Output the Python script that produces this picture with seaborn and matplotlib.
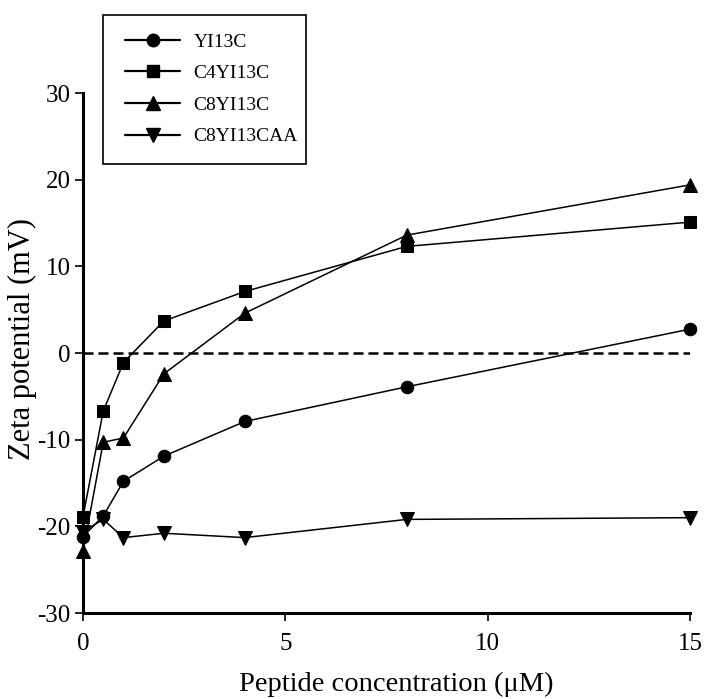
import matplotlib
matplotlib.use("Agg")
import matplotlib.pyplot as plt
import seaborn as sns
import pandas as pd
from matplotlib.lines import Line2D
from matplotlib.patches import Rectangle

sns.set_theme(style="ticks")
plt.rcParams['font.family'] = ['Liberation Serif', 'DejaVu Serif']
plt.rcParams['axes.unicode_minus'] = False

concentration = [0, 0.5, 1, 2, 4, 8, 15]
series_names = ["YI13C", "C4YI13C", "C8YI13C", "C8YI13CAA"]
yi13c = [-21.2, -18.8, -14.8, -11.9, -7.9, -3.9, 2.75]
c4yi13c = [-18.9, -6.7, -1.1, 3.7, 7.1, 12.3, 15.1]
c8yi13c = [-22.9, -10.3, -9.8, -2.4, 4.6, 13.6, 19.4]
c8yi13caa = [-20.6, -19.2, -21.3, -20.8, -21.3, -19.2, -19.0]
markers = {"YI13C": "o", "C4YI13C": "s", "C8YI13C": "^", "C8YI13CAA": "v"}
msizes = {"YI13C": 9, "C4YI13C": 8, "C8YI13C": 10, "C8YI13CAA": 10}

values = [yi13c, c4yi13c, c8yi13c, c8yi13caa]
rows = []
for name, vals in zip(series_names, values):
    for x, y in zip(concentration, vals):
        rows.append({"conc": x, "zeta": y, "series": name})
df = pd.DataFrame(rows)

fig = plt.figure(figsize=(7.04, 6.99), dpi=100)
ax = fig.add_axes([83/704, 1-613/699, (690-83)/704, (613-93)/699])

ax.axhline(0, color="black", lw=1.8, ls=(0, (4, 2)), zorder=1)

for name in series_names:
    sub = df[df.series == name]
    sns.lineplot(data=sub, x="conc", y="zeta", ax=ax, color="black",
                 marker=markers[name], markersize=msizes[name], lw=1.1,
                 markeredgecolor="black", markerfacecolor="black",
                 clip_on=False, zorder=3, legend=False)

ax.set_xlim(0, 15)
ax.set_ylim(-30, 30)
ax.set_xticks([0, 5, 10, 15])
ax.set_yticks([-30, -20, -10, 0, 10, 20, 30])
sns.despine(ax=ax)
for s in ["left", "bottom"]:
    ax.spines[s].set_linewidth(2.2)
    ax.spines[s].set_color("black")
ax.tick_params(axis="both", direction="out", length=5.5, width=1.2, colors="black",
               labelsize=18)
ax.tick_params(axis="y", pad=3.5)
ax.tick_params(axis="x", pad=9)
ax.set_xlabel("Peptide concentration (\u03bcM)", fontsize=20.5, color="black")
ax.set_ylabel("Zeta potential (mV)", fontsize=22, color="black")
ax.xaxis.set_label_coords((396-83)/607, (613-672)/520)
ax.yaxis.set_label_coords((37-83)/607, (613-339)/520)

handles = [Line2D([], [], color="black", lw=1.6, marker=markers[n], markersize=msizes[n],
                  markerfacecolor="black", markeredgecolor="black") for n in series_names]
leg = fig.legend(handles, series_names, loc="upper left",
                 bbox_to_anchor=(125/704, 1-33/699), frameon=False,
                 fontsize=14, handlelength=2.85, borderpad=0,
                 labelspacing=0.72, handletextpad=0.67, borderaxespad=0)
for t in leg.get_texts():
    t.set_color("black")
fig.patches.append(Rectangle((103/704, 1-164/699), (306-103)/704, (164-15)/699,
                             transform=fig.transFigure, fill=False,
                             edgecolor="black", lw=1.2, zorder=5))

fig.savefig("out.png", dpi=100)
